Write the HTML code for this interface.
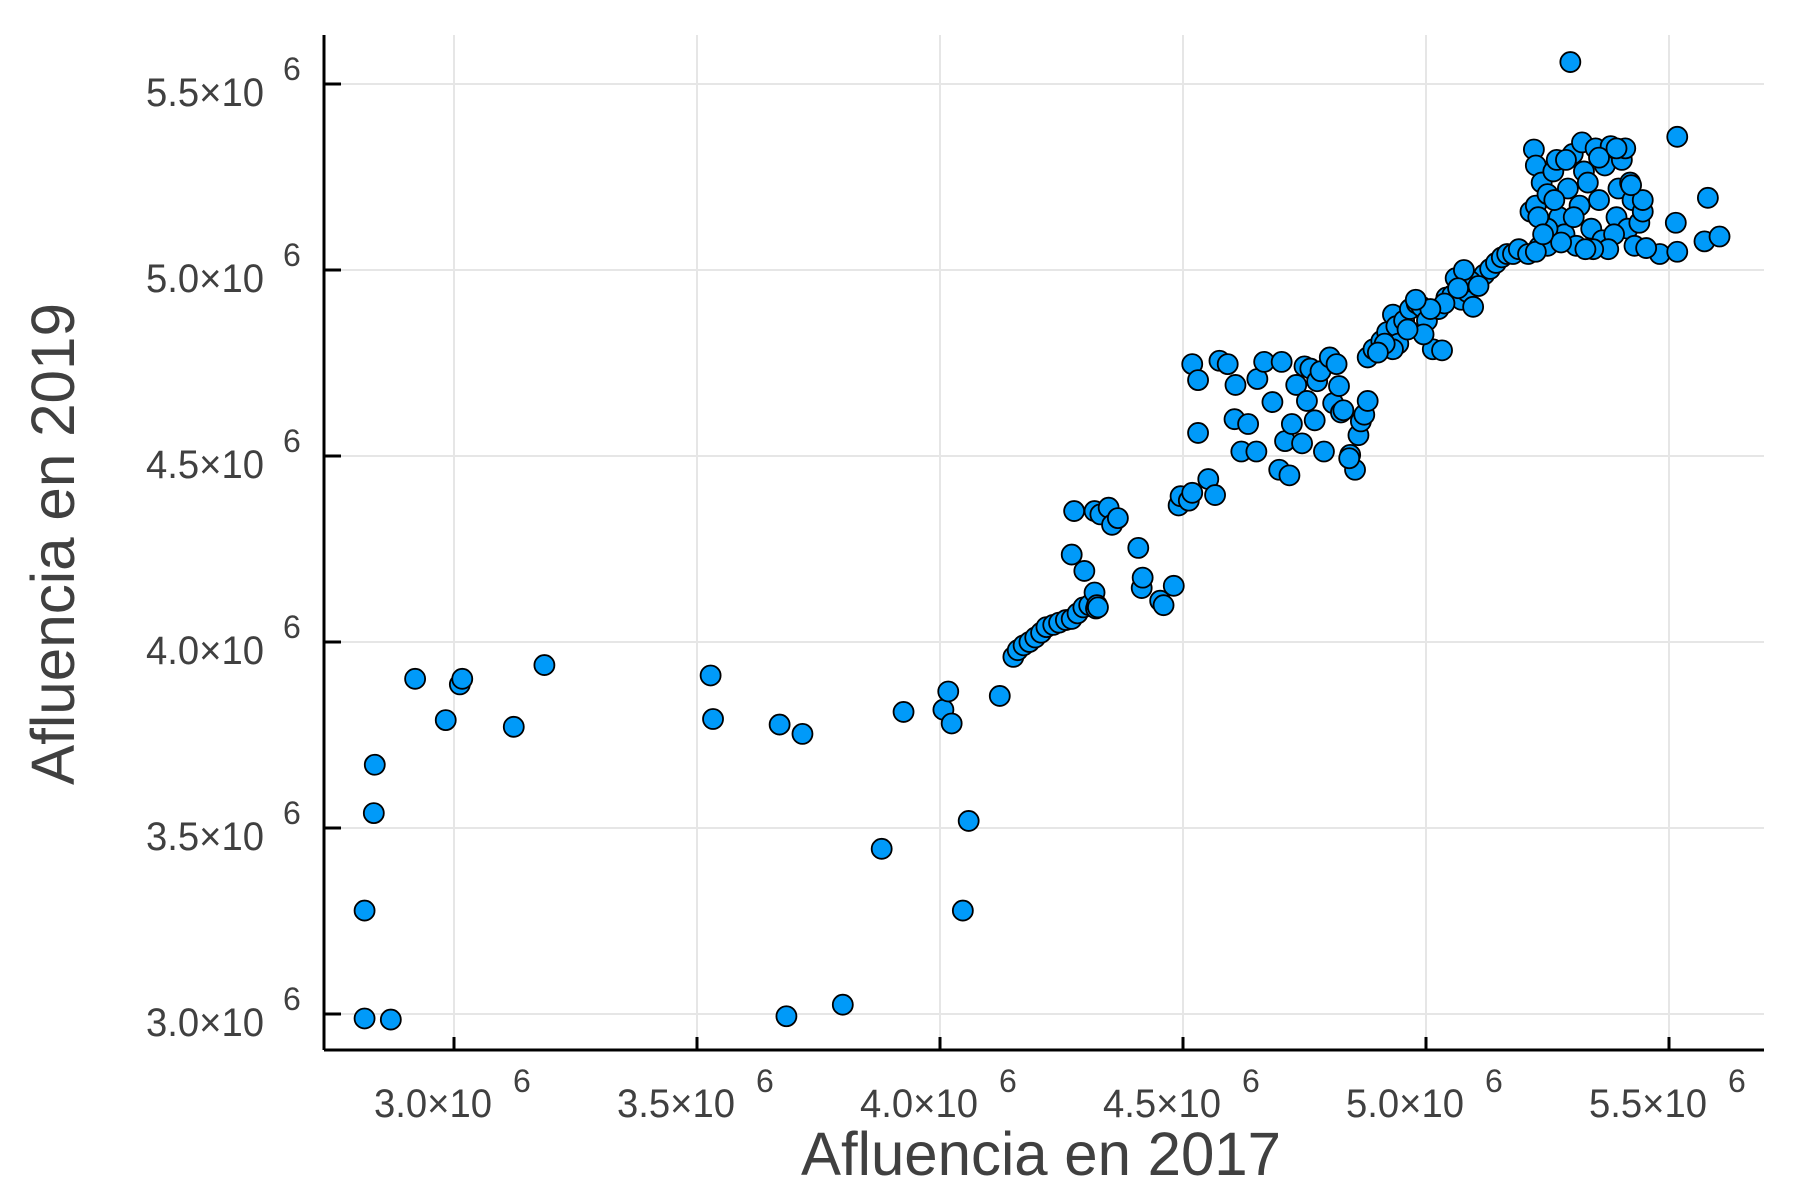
<!DOCTYPE html>
<html><head><meta charset="utf-8"><style>html,body{margin:0;padding:0;background:#fff}svg{display:block}</style></head>
<body>
<svg id="chart" width="1800" height="1200" xmlns="http://www.w3.org/2000/svg" font-family="Liberation Sans, sans-serif">
<g id="grid"></g>
<g id="axes"></g>
<g id="points"></g>
<text x="1041" y="1175" font-size="61" fill="#404040" text-anchor="middle" textLength="480" lengthAdjust="spacingAndGlyphs">Afluencia en 2017</text>
<text transform="translate(74,544) rotate(-90)" font-size="61" fill="#404040" text-anchor="middle" textLength="482" lengthAdjust="spacingAndGlyphs">Afluencia en 2019</text>
</svg>
<script>
const xTicks = [3.0, 3.5, 4.0, 4.5, 5.0, 5.5];
const yTicks = [3.0, 3.5, 4.0, 4.5, 5.0, 5.5];
const xTickLabels = ["3.0×10", "3.5×10", "4.0×10", "4.5×10", "5.0×10", "5.5×10"];
const yTickLabels = ["3.0×10", "3.5×10", "4.0×10", "4.5×10", "5.0×10", "5.5×10"];
// points in display coords -> converted to millions
const rawDX = [318,318,341,326,327,362,389,401,403,448,475,620,622,680,686,700,735,769,788,823,827,830,845,840,872,884,888,893,898,903,908,913,919,924,930,935,940,945,950,956,937,935,946,955,957,958,955,960,967,970,975,993,996,997,1012,1015,1024,1028,1030,1037,1040,1040,1045,1045,1054,1060,1064,1071,1078,1077,1083,1089,1096,1097,1103,1110,1116,1118,1121,1125,1127,1131,1136,1138,1140,1143,1147,1149,1152,1155,1160,1163,1166,1168,1170,1172,1178,1182,1185,1187,1190,1193,1177,1193,1198,1205,1210,1215,1218,1220,1225,1230,1236,1240,1245,1250,1255,1258,1262,1267,1270,1275,1280,1285,1290,1295,1300,1305,1310,1315,1320,1325,1333,1343,1350,1340,1260,1248,1242,1235,1215,1208,1202,1228,1283,1290,1277,1272,1338,1340,1345,1335,1340,1350,1355,1358,1360,1365,1368,1372,1375,1378,1380,1382,1385,1388,1392,1395,1398,1400,1405,1410,1412,1415,1418,1420,1422,1424,1426,1430,1433,1350,1342,1362,1370,1463,1448,1463,1462,1487,1490,1500,1433,1423,1408,1403,1390,1383,1373,1366,1356,1346,1395,1436,1410];
const rawDY = [794,888,889,709,667,592,628,597,592,634,580,589,627,632,886,640,876,740,621,619,603,631,716,794,607,573,567,563,560,556,552,547,545,543,541,540,535,530,528,531,446,484,498,517,528,530,446,449,443,458,452,478,513,504,524,528,511,441,433,437,430,318,332,378,418,432,315,318,336,366,394,370,394,331,316,351,410,316,385,415,370,336,387,320,350,322,367,333,324,394,312,352,318,337,360,358,397,410,380,368,362,350,400,312,305,298,290,275,285,300,280,270,265,268,280,305,270,306,260,258,243,262,255,268,247,240,235,230,225,222,222,218,222,216,215,220,265,270,292,262,305,300,308,288,246,250,236,252,131,145,160,185,180,170,150,140,190,205,165,135,215,180,125,150,160,200,130,175,210,145,128,190,165,140,130,200,160,175,215,195,185,200,190,212,55,120,222,220,195,211,173,207,175,162,205,218,218,218,190,140,175,205,138,217,130];
const xVals = rawDX.map(d => +(3.0 + (d - 396) / 424).toFixed(3));
const yVals = rawDY.map(d => +(3.0 + (884 - d) / 324).toFixed(3));

const L = 324, R = 1764, T = 35, B = 1050;
function sx(v){ return 454 + (v - 3.0) * 486; }
function sy(v){ return 1014 - (v - 3.0) * 372; }
const NS = "http://www.w3.org/2000/svg";
function mk(tag, attrs, parent){ const e = document.createElementNS(NS, tag); for (const k in attrs) e.setAttribute(k, attrs[k]); parent.appendChild(e); return e; }
const grid = document.getElementById('grid'), axes = document.getElementById('axes'), pts = document.getElementById('points');

xTicks.forEach((t, i) => {
  const x = sx(t);
  const g = mk('line', {x1:x, x2:x, y1:T, y2:B, stroke:'#e6e6e6', 'stroke-width':2}, grid);
  
  
  const tk = mk('line', {x1:x, x2:x, y1:B-13, y2:B, stroke:'#000', 'stroke-width':3}, axes);
  
  
  const tx = mk('text', {x:x-80, y:1117, 'font-size':40, fill:'#404040', textLength:118, lengthAdjust:'spacingAndGlyphs'}, axes);
  tx.textContent = xTickLabels[i];
  
  
  const sp = mk('text', {x:x+59, y:1092, 'font-size':32, fill:'#404040'}, axes);
  sp.textContent = '6';
  
  
});
yTicks.forEach((t, i) => {
  const y = sy(t);
  const g = mk('line', {x1:L, x2:R, y1:y, y2:y, stroke:'#e6e6e6', 'stroke-width':2}, grid);
  
  
  const tk = mk('line', {x1:L, x2:L+17, y1:y, y2:y, stroke:'#000', 'stroke-width':3}, axes);
  
  
  const tx = mk('text', {x:146, y:y+22, 'font-size':40, fill:'#404040', textLength:118, lengthAdjust:'spacingAndGlyphs'}, axes);
  tx.textContent = yTickLabels[i];
  
  
  const sp = mk('text', {x:283, y:y-4, 'font-size':32, fill:'#404040'}, axes);
  sp.textContent = '6';
  
  
});
const xa = mk('line', {x1:L, x2:R, y1:B, y2:B, stroke:'#000', 'stroke-width':3}, axes);


const ya = mk('line', {x1:L, x2:L, y1:T, y2:B, stroke:'#000', 'stroke-width':3}, axes);



xVals.forEach((v, i) => {
  const c = mk('circle', {cx:sx(v), cy:sy(yVals[i]), r:10, fill:'#009af9', stroke:'#000', 'stroke-width':1.8}, pts);
  
  
});
</script>
</body></html>
